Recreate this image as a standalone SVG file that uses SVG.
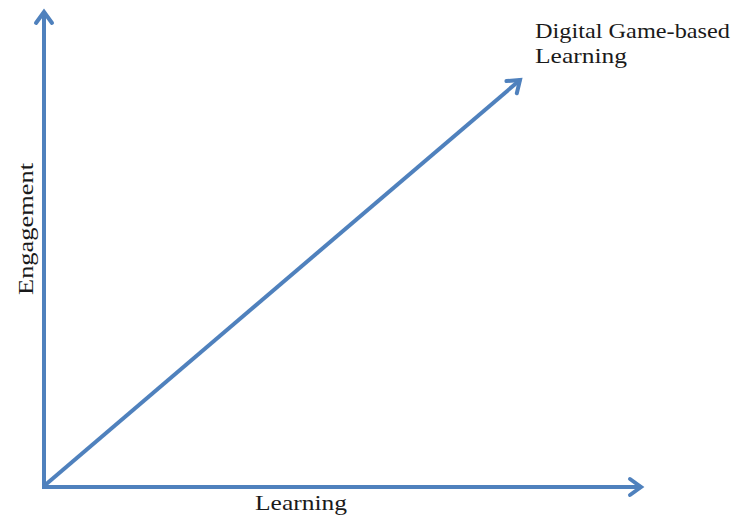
<svg xmlns="http://www.w3.org/2000/svg" width="734" height="518" viewBox="0 0 734 518">
  <style>
    .axis { stroke: #4F81BD; stroke-width: 4; fill: none; }
    .lbl { font-family: "Liberation Serif", "Times New Roman", serif; font-size: 22px; fill: #1a1a1a; }
  </style>
  <defs>
    <marker id="arr" markerUnits="userSpaceOnUse" viewBox="-18 -12 22 24" refX="0" refY="0" markerWidth="22" markerHeight="24" orient="auto" overflow="visible">
      <path d="M-11,-8 L0,0 L-11,8" fill="none" stroke="#4F81BD" stroke-width="4" stroke-linejoin="miter" stroke-linecap="round"/>
    </marker>
  </defs>
  <rect width="734" height="518" fill="#ffffff"/>
  <g id="connectors">
    <line id="y-axis" class="axis" x1="44" y1="487" x2="44" y2="12" marker-end="url(#arr)"/>
    <line id="x-axis" class="axis" x1="42" y1="487" x2="641" y2="487" marker-end="url(#arr)"/>
    <line id="diagonal" class="axis" x1="44" y1="486" x2="520" y2="80" marker-end="url(#arr)"/>
  </g>
  <g id="label-engagement">
    <text class="lbl" transform="translate(33,229) rotate(-90)" text-anchor="middle" textLength="132" lengthAdjust="spacingAndGlyphs">Engagement</text>
  </g>
  <g id="label-learning">
    <text class="lbl" x="255" y="510" textLength="92" lengthAdjust="spacingAndGlyphs">Learning</text>
  </g>
  <g id="label-dgbl">
    <text class="lbl" x="535" y="38" textLength="195" lengthAdjust="spacingAndGlyphs">Digital Game-based</text>
    <text class="lbl" x="535" y="63" textLength="92" lengthAdjust="spacingAndGlyphs">Learning</text>
  </g>
</svg>
